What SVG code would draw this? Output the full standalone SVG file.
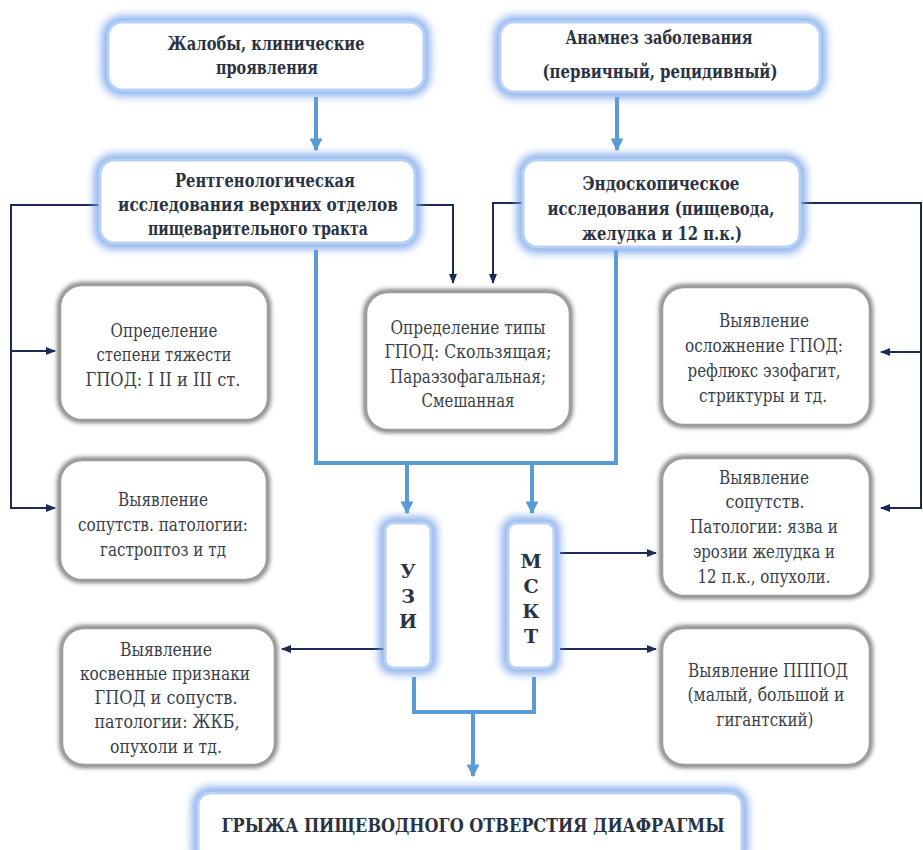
<svg xmlns="http://www.w3.org/2000/svg" width="923" height="850" viewBox="0 0 923 850">
<defs>
<filter id="glow" x="-30%" y="-30%" width="160%" height="160%"><feGaussianBlur stdDeviation="4"/></filter>
<filter id="shadow" x="-20%" y="-20%" width="140%" height="140%"><feGaussianBlur stdDeviation="2"/></filter>
<marker id="ab" viewBox="0 0 10 10" refX="9" refY="5" markerWidth="3.2" markerHeight="3.2" orient="auto" markerUnits="strokeWidth"><path d="M0,0 L10,5 L0,10 z" fill="#5b9bd5"/></marker>
<marker id="ad" viewBox="0 0 10 10" refX="9" refY="5" markerWidth="5" markerHeight="5" orient="auto" markerUnits="strokeWidth"><path d="M0,1 L10,5 L0,9 z" fill="#1c2a55"/></marker>
</defs>
<style>
.bglow{fill:none;stroke:#6f9fe8;stroke-width:12;filter:url(#glow);opacity:0.85}
.bbox{fill:#fff;stroke:#b7d0f5;stroke-width:3}
.gsh{fill:none;stroke:#6e6e6e;stroke-width:6;filter:url(#shadow);opacity:0.85}
.gbox{fill:#fff;stroke:#9c9c9c;stroke-width:2.5}
text{font-family:'DejaVu Serif','Noto Serif','PT Serif','FreeSerif','Liberation Serif',serif;text-anchor:middle}
.tb{font-weight:bold;font-size:19px;fill:#2b3242}
.tn{font-size:19px;fill:#3a3f4a}
.tl{font-weight:bold;font-size:19px;fill:#2b3242}
.blue{fill:none;stroke:#5b9bd5;stroke-width:4}
.dark{fill:none;stroke:#1c2a55;stroke-width:2}
</style>

<g id="connectors">
<path class="blue" d="M316,97 V150" marker-end="url(#ab)"/>
<path class="blue" d="M617,97 V150" marker-end="url(#ab)"/>
<path class="blue" d="M316,250 V463 H616 V250"/>
<path class="blue" d="M407,463 V513" marker-end="url(#ab)"/>
<path class="blue" d="M532,463 V513" marker-end="url(#ab)"/>
<path class="blue" d="M414,677 V712 H534 V677"/>
<path class="blue" d="M473,712 V776" marker-end="url(#ab)"/>
<path class="dark" d="M100,205 H11 V508 H55" marker-end="url(#ad)"/>
<path class="dark" d="M11,351 H55" marker-end="url(#ad)"/>
<path class="dark" d="M415,205 H453 V283" marker-end="url(#ad)"/>
<path class="dark" d="M523,203 H493 V283" marker-end="url(#ad)"/>
<path class="dark" d="M800,203 H921 V508 H881" marker-end="url(#ad)"/>
<path class="dark" d="M921,352 H881" marker-end="url(#ad)"/>
<path class="dark" d="M560,553 H656" marker-end="url(#ad)"/>
<path class="dark" d="M560,649 H656" marker-end="url(#ad)"/>
<path class="dark" d="M385,649 H282" marker-end="url(#ad)"/>
</g>

<g id="n-complaints">
<rect class="bglow" x="108" y="22" width="316" height="68" rx="14"/>
<rect class="bbox" x="108" y="22" width="316" height="68" rx="14"/>
<text class="tb" x="266" y="50" textLength="197" lengthAdjust="spacingAndGlyphs">Жалобы, клинические</text>
<text class="tb" x="267" y="74" textLength="102" lengthAdjust="spacingAndGlyphs">проявления</text>
</g>

<g id="n-anamnesis">
<rect class="bglow" x="500" y="22" width="320" height="70" rx="14"/>
<rect class="bbox" x="500" y="22" width="320" height="70" rx="14"/>
<text class="tb" x="659" y="44" textLength="187" lengthAdjust="spacingAndGlyphs">Анамнез заболевания</text>
<text class="tb" x="660" y="78" textLength="235" lengthAdjust="spacingAndGlyphs">(первичный, рецидивный)</text>
</g>

<g id="n-xray">
<rect class="bglow" x="100" y="160" width="315" height="83" rx="14"/>
<rect class="bbox" x="100" y="160" width="315" height="83" rx="14"/>
<text class="tb" x="265" y="187" textLength="180" lengthAdjust="spacingAndGlyphs">Рентгенологическая</text>
<text class="tb" x="258" y="211" textLength="280" lengthAdjust="spacingAndGlyphs">исследования верхних отделов</text>
<text class="tb" x="258" y="235" textLength="220" lengthAdjust="spacingAndGlyphs">пищеварительного тракта</text>
</g>

<g id="n-endo">
<rect class="bglow" x="523" y="160" width="277" height="87" rx="14"/>
<rect class="bbox" x="523" y="160" width="277" height="87" rx="14"/>
<text class="tb" x="661" y="190" textLength="157" lengthAdjust="spacingAndGlyphs">Эндоскопическое</text>
<text class="tb" x="661" y="215" textLength="227" lengthAdjust="spacingAndGlyphs">исследования (пищевода,</text>
<text class="tb" x="662" y="240" textLength="160" lengthAdjust="spacingAndGlyphs">желудка и 12 п.к.)</text>
</g>

<g id="n-severity">
<rect class="gsh" x="60" y="285" width="208" height="135" rx="22"/>
<rect class="gbox" x="60" y="285" width="208" height="135" rx="22"/>
<text class="tn" x="164" y="337" textLength="107" lengthAdjust="spacingAndGlyphs">Определение</text>
<text class="tn" x="164" y="361" textLength="135" lengthAdjust="spacingAndGlyphs">степени тяжести</text>
<text class="tn" x="163" y="386" textLength="155" lengthAdjust="spacingAndGlyphs">ГПОД:  I II и III ст.</text>
</g>

<g id="n-types">
<rect class="gsh" x="366" y="292" width="204" height="138" rx="22"/>
<rect class="gbox" x="366" y="292" width="204" height="138" rx="22"/>
<text class="tn" x="468" y="334" textLength="155" lengthAdjust="spacingAndGlyphs">Определение типы</text>
<text class="tn" x="468" y="358" textLength="167" lengthAdjust="spacingAndGlyphs">ГПОД: Скользящая;</text>
<text class="tn" x="468" y="383" textLength="156" lengthAdjust="spacingAndGlyphs">Параэзофагальная;</text>
<text class="tn" x="468" y="407" textLength="93" lengthAdjust="spacingAndGlyphs">Смешанная</text>
</g>

<g id="n-complications">
<rect class="gsh" x="662" y="287" width="208" height="138" rx="22"/>
<rect class="gbox" x="662" y="287" width="208" height="138" rx="22"/>
<text class="tn" x="764" y="327" textLength="90" lengthAdjust="spacingAndGlyphs">Выявление</text>
<text class="tn" x="764" y="352" textLength="158" lengthAdjust="spacingAndGlyphs">осложнение ГПОД:</text>
<text class="tn" x="764" y="377" textLength="153" lengthAdjust="spacingAndGlyphs">рефлюкс эзофагит,</text>
<text class="tn" x="763" y="402" textLength="128" lengthAdjust="spacingAndGlyphs">стриктуры и тд.</text>
</g>

<g id="n-concomitant-left">
<rect class="gsh" x="60" y="460" width="207" height="120" rx="22"/>
<rect class="gbox" x="60" y="460" width="207" height="120" rx="22"/>
<text class="tn" x="163" y="506" textLength="90" lengthAdjust="spacingAndGlyphs">Выявление</text>
<text class="tn" x="163" y="531" textLength="170" lengthAdjust="spacingAndGlyphs">сопутств. патологии:</text>
<text class="tn" x="163" y="556" textLength="126" lengthAdjust="spacingAndGlyphs">гастроптоз и тд</text>
</g>

<g id="n-concomitant-right">
<rect class="gsh" x="662" y="458" width="208" height="138" rx="22"/>
<rect class="gbox" x="662" y="458" width="208" height="138" rx="22"/>
<text class="tn" x="764" y="484" textLength="90" lengthAdjust="spacingAndGlyphs">Выявление</text>
<text class="tn" x="765" y="508" textLength="79" lengthAdjust="spacingAndGlyphs">сопутств.</text>
<text class="tn" x="764" y="533" textLength="148" lengthAdjust="spacingAndGlyphs">Патологии: язва и</text>
<text class="tn" x="764" y="558" textLength="142" lengthAdjust="spacingAndGlyphs">эрозии желудка и</text>
<text class="tn" x="764" y="583" textLength="133" lengthAdjust="spacingAndGlyphs">12 п.к., опухоли.</text>
</g>

<g id="n-uzi">
<rect class="bglow" x="385" y="523" width="46" height="145" rx="8"/>
<rect class="bbox" x="385" y="523" width="46" height="145" rx="8"/>
<text class="tl" x="408" y="578">У</text>
<text class="tl" x="408" y="603">З</text>
<text class="tl" x="408" y="628">И</text>
</g>

<g id="n-msct">
<rect class="bglow" x="508" y="523" width="46" height="145" rx="8"/>
<rect class="bbox" x="508" y="523" width="46" height="145" rx="8"/>
<text class="tl" x="531" y="568">М</text>
<text class="tl" x="531" y="593">С</text>
<text class="tl" x="531" y="618">К</text>
<text class="tl" x="531" y="643">Т</text>
</g>

<g id="n-indirect">
<rect class="gsh" x="62" y="628" width="213" height="137" rx="22"/>
<rect class="gbox" x="62" y="628" width="213" height="137" rx="22"/>
<text class="tn" x="166" y="656" textLength="92" lengthAdjust="spacingAndGlyphs">Выявление</text>
<text class="tn" x="165" y="680" textLength="170" lengthAdjust="spacingAndGlyphs">косвенные признаки</text>
<text class="tn" x="166" y="704" textLength="143" lengthAdjust="spacingAndGlyphs">ГПОД и сопуств.</text>
<text class="tn" x="167" y="728" textLength="145" lengthAdjust="spacingAndGlyphs">патологии: ЖКБ,</text>
<text class="tn" x="166" y="753" textLength="112" lengthAdjust="spacingAndGlyphs">опухоли и тд.</text>
</g>

<g id="n-size">
<rect class="gsh" x="662" y="628" width="208" height="137" rx="22"/>
<rect class="gbox" x="662" y="628" width="208" height="137" rx="22"/>
<text class="tn" x="768" y="677" textLength="160" lengthAdjust="spacingAndGlyphs">Выявление ПППОД</text>
<text class="tn" x="766" y="701" textLength="157" lengthAdjust="spacingAndGlyphs">(малый, большой и</text>
<text class="tn" x="765" y="726" textLength="97" lengthAdjust="spacingAndGlyphs">гигантский)</text>
</g>

<g id="n-result">
<rect class="bglow" x="198" y="793" width="544" height="70" rx="12"/>
<rect class="bbox" x="198" y="793" width="544" height="70" rx="12"/>
<text class="tb" x="473" y="832" textLength="503" lengthAdjust="spacingAndGlyphs">ГРЫЖА ПИЩЕВОДНОГО ОТВЕРСТИЯ ДИАФРАГМЫ</text>
</g>
</svg>
